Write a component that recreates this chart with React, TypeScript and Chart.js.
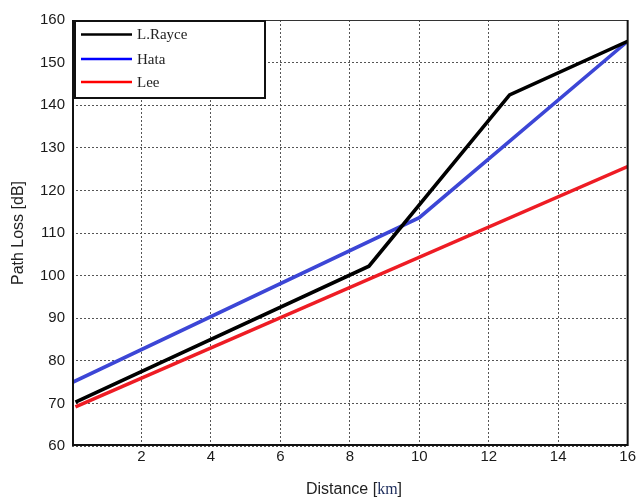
import React, { useEffect, useRef } from "react";
import { Chart, registerables } from "chart.js";

Chart.register(...registerables);

const seriesNames = ["L.Rayce", "Hata", "Lee"];
const distRayce = [0.1, 8.55, 12.6, 16];
const lossRayce = [70.3, 102.2, 142.4, 155];
const distHata = [0, 10, 16];
const lossHata = [74.9, 113.6, 155];
const distLee = [0.1, 16];
const lossLee = [69.2, 125.6];
const xTicks = [0, 2, 4, 6, 8, 10, 12, 14, 16];
const yTicks = [60, 70, 80, 90, 100, 110, 120, 130, 140, 150, 160];
const xTitle = "Distance [";
const xUnit = "km";
const yTitle = "Path Loss [dB]";

const lineColors = ["#000000", "#3c46d6", "#ee1c24"];
const legendColors = ["#000000", "#0000ff", "#ff0000"];

const sans = "'Liberation Sans', Arial, Helvetica, sans-serif";
const serif = "'Liberation Serif', 'Times New Roman', serif";

const toPoints = (xs: number[], ys: number[]) => xs.map((x, i) => ({ x, y: ys[i] }));

const decorPlugin = {
  id: "decor",
  afterDraw(chart: any) {
    const { ctx, chartArea } = chart;
    const { left, right, top, bottom } = chartArea;
    ctx.save();
    // frame
    ctx.setLineDash([]);
    ctx.strokeStyle = "#333";
    ctx.lineWidth = 1;
    ctx.beginPath();
    ctx.moveTo(left, top + 0.5);
    ctx.lineTo(right, top + 0.5);
    ctx.stroke();
    ctx.strokeStyle = "#111";
    ctx.lineWidth = 2;
    ctx.beginPath();
    ctx.moveTo(left + 1, top);
    ctx.lineTo(left + 1, bottom - 1);
    ctx.lineTo(right, bottom - 1);
    ctx.moveTo(right, top);
    ctx.lineTo(right, bottom);
    ctx.stroke();

    // legend
    const bx = left + 2, by = top, bw = 192, bh = 79;
    ctx.fillStyle = "#ffffff";
    ctx.fillRect(bx, by, bw, bh);
    ctx.strokeStyle = "#111";
    ctx.lineWidth = 2;
    ctx.strokeRect(bx + 1, by + 1, bw - 2, bh - 2);
    const rows = [14.5, 39, 62];
    seriesNames.forEach((name, i) => {
      const y = by + rows[i];
      ctx.strokeStyle = legendColors[i];
      ctx.lineWidth = 2.5;
      ctx.beginPath();
      ctx.moveTo(bx + 7, y);
      ctx.lineTo(bx + 58, y);
      ctx.stroke();
      ctx.fillStyle = "#222";
      ctx.font = `15px ${serif}`;
      ctx.textBaseline = "middle";
      ctx.textAlign = "left";
      ctx.fillText(name, bx + 63, y + 1);
    });

    // y title
    ctx.save();
    ctx.translate(19, 233);
    ctx.rotate(-Math.PI / 2);
    ctx.fillStyle = "#222";
    ctx.font = `16px ${sans}`;
    ctx.textAlign = "center";
    ctx.textBaseline = "middle";
    ctx.fillText(yTitle, 0, 0);
    ctx.restore();

    // x title
    const fs = 16;
    ctx.font = `${fs}px ${sans}`;
    const w1 = ctx.measureText(xTitle).width;
    ctx.font = `${fs}px ${serif}`;
    const w2 = ctx.measureText(xUnit).width;
    ctx.font = `${fs}px ${sans}`;
    const w3 = ctx.measureText("]").width;
    const total = w1 + w2 + w3;
    let x = 354 - total / 2;
    const yb = 493.5;
    ctx.textAlign = "left";
    ctx.textBaseline = "alphabetic";
    ctx.fillStyle = "#222";
    ctx.fillText(xTitle, x, yb);
    x += w1;
    ctx.font = `${fs}px ${serif}`;
    ctx.fillStyle = "#1a2a5a";
    ctx.fillText(xUnit, x, yb);
    x += w2;
    ctx.font = `${fs}px ${sans}`;
    ctx.fillStyle = "#222";
    ctx.fillText("]", x, yb);
    ctx.restore();
  },
};

export default function App() {
  const ref = useRef<HTMLCanvasElement | null>(null);
  useEffect(() => {
    document.body.style.margin = "0";
    const canvas = ref.current;
    if (!canvas) return;
    const chart = new Chart(canvas, {
      type: "line",
      data: {
        datasets: [
          { label: seriesNames[0], data: toPoints(distRayce, lossRayce) },
          { label: seriesNames[1], data: toPoints(distHata, lossHata) },
          { label: seriesNames[2], data: toPoints(distLee, lossLee) },
        ].map((d, i) => ({
          ...d,
          borderColor: lineColors[i],
          backgroundColor: lineColors[i],
          borderWidth: 3.6,
          pointRadius: 0,
          tension: 0,
          fill: false,
        })),
      },
      options: {
        animation: false,
        responsive: true,
        maintainAspectRatio: false,
        layout: { padding: { top: 20, right: 7, left: 0, bottom: 0 } },
        plugins: { legend: { display: false }, tooltip: { enabled: false } },
        scales: {
          x: {
            type: "linear",
            min: 0,
            max: 16,
            afterBuildTicks: (s: any) => {
              s.ticks = xTicks.map((v) => ({ value: v }));
            },
            afterFit: (s: any) => {
              s.height = 51;
            },
            ticks: {
              callback: (v: any) => (v === 0 ? "" : String(v)),
              font: { family: sans, size: 15 },
              color: "#1a1a1a",
              padding: 2,
              maxRotation: 0,
              autoSkip: false,
            },
            grid: { color: "#555", lineWidth: 1, drawTicks: false },
            border: { display: false, dash: [2, 2] },
          },
          y: {
            type: "linear",
            min: 60,
            max: 160,
            afterBuildTicks: (s: any) => {
              s.ticks = yTicks.map((v) => ({ value: v }));
            },
            afterFit: (s: any) => {
              s.width = 72;
            },
            ticks: {
              font: { family: sans, size: 15 },
              color: "#1a1a1a",
              padding: 7,
              autoSkip: false,
            },
            grid: { color: "#555", lineWidth: 1, drawTicks: false },
            border: { display: false, dash: [2, 2] },
          },
        },
      },
      plugins: [decorPlugin],
    } as any);
    return () => chart.destroy();
  }, []);
  return (
    <div style={{ position: "absolute", left: 0, top: 0, width: 638, height: 497, background: "#fff" }}>
      <canvas ref={ref} />
    </div>
  );
}
